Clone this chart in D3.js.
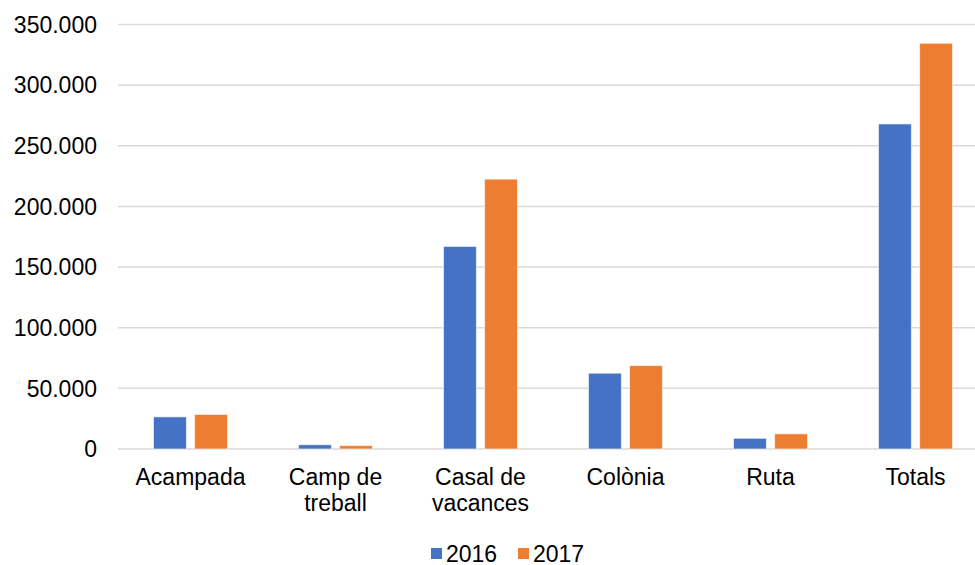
<!DOCTYPE html>
<html>
<head>
<meta charset="utf-8">
<script src="https://cdn.jsdelivr.net/npm/d3@7"></script>
<style>
  body { margin: 0; background: #fff; }
  text { font-family: "Liberation Sans", Arial, sans-serif; fill: #000; }
</style>
</head>
<body>
<div id="container"></div>
<script>
const categories = ["Acampada", "Camp de treball", "Casal de vacances", "Colònia", "Ruta", "Totals"]
const labelLines = [["Acampada"], ["Camp de", "treball"], ["Casal de", "vacances"], ["Colònia"], ["Ruta"], ["Totals"]]
const series = ["2016", "2017"]
const values2016 = [26500, 3500, 167000, 62500, 8800, 268000]
const values2017 = [28500, 2800, 222500, 68800, 12500, 334500]
const yTicks = [0, 50000, 100000, 150000, 200000, 250000, 300000, 350000]
const colors = ["#4472c4", "#ed7d31"]

const w = 975, h = 565
const plotLeft = 118, plotRight = 988, plotTop = 24.5, plotBottom = 449

const svg = d3.select("#container").append("svg").attr("width", w).attr("height", h)

const locale = d3.formatLocale({ decimal: ",", thousands: ".", grouping: [3], currency: ["", "€"] })
const fmt = locale.format(",")

const x = d3.scaleBand().domain(categories).range([plotLeft, plotRight]).padding(0)
const groupPad = 35.5
const x1 = d3.scaleBand().domain(series).range([groupPad, x.bandwidth() - groupPad]).paddingInner(0.2)
const y = d3.scaleLinear().domain([0, 350000]).range([plotBottom, plotTop])
const color = d3.scaleOrdinal().domain(series).range(colors)

// gridlines
svg.append("g").selectAll("line")
    .data(yTicks)
    .enter()
    .append("line")
    .attr("x1", plotLeft).attr("x2", w)
    .attr("y1", d => y(d)).attr("y2", d => y(d))
    .attr("stroke", "#d9d9d9").attr("stroke-width", 1.5)

// y labels
svg.append("g").selectAll("text")
    .data(yTicks)
    .enter()
    .append("text")
    .attr("x", 97).attr("y", d => y(d)).attr("dy", "0.36em")
    .attr("text-anchor", "end").attr("font-size", 23)
    .text(d => fmt(d))

const rows = categories.map((c, i) => ({ cat: c, values: [values2016[i], values2017[i]] }))

const groups = svg.append("g").selectAll("g")
    .data(rows)
    .enter()
    .append("g")
    .attr("transform", d => `translate(${x(d.cat)},0)`)

groups.selectAll("rect")
    .data(d => series.map((s, j) => ({ s, v: d.values[j] })))
    .enter()
    .append("rect")
    .attr("x", d => x1(d.s))
    .attr("width", x1.bandwidth())
    .attr("y", d => y(d.v))
    .attr("height", d => y(0) - y(d.v))
    .attr("fill", d => color(d.s))
    .attr("stroke", "rgba(255,255,255,0.6)").attr("stroke-width", 1)

// category labels
const catLabels = svg.append("g").selectAll("text")
    .data(categories)
    .enter()
    .append("text")
    .attr("text-anchor", "middle").attr("font-size", 23)
    .attr("transform", d => `translate(${x(d) + x.bandwidth() / 2}, 485)`)
catLabels.selectAll("tspan")
    .data((d, i) => labelLines[i])
    .enter()
    .append("tspan")
    .attr("x", 0).attr("dy", (d, i) => i === 0 ? 0 : 26)
    .text(d => d)

// legend
const legendX = [431, 518]
const legend = svg.append("g").selectAll("g")
    .data(series)
    .enter()
    .append("g")
    .attr("transform", (d, i) => `translate(${legendX[i]}, 548)`)
legend.append("rect").attr("width", 11).attr("height", 11).attr("fill", d => color(d))
legend.append("text").attr("x", 15).attr("y", 13.5).attr("font-size", 23).text(d => d)
</script>
</body>
</html>
